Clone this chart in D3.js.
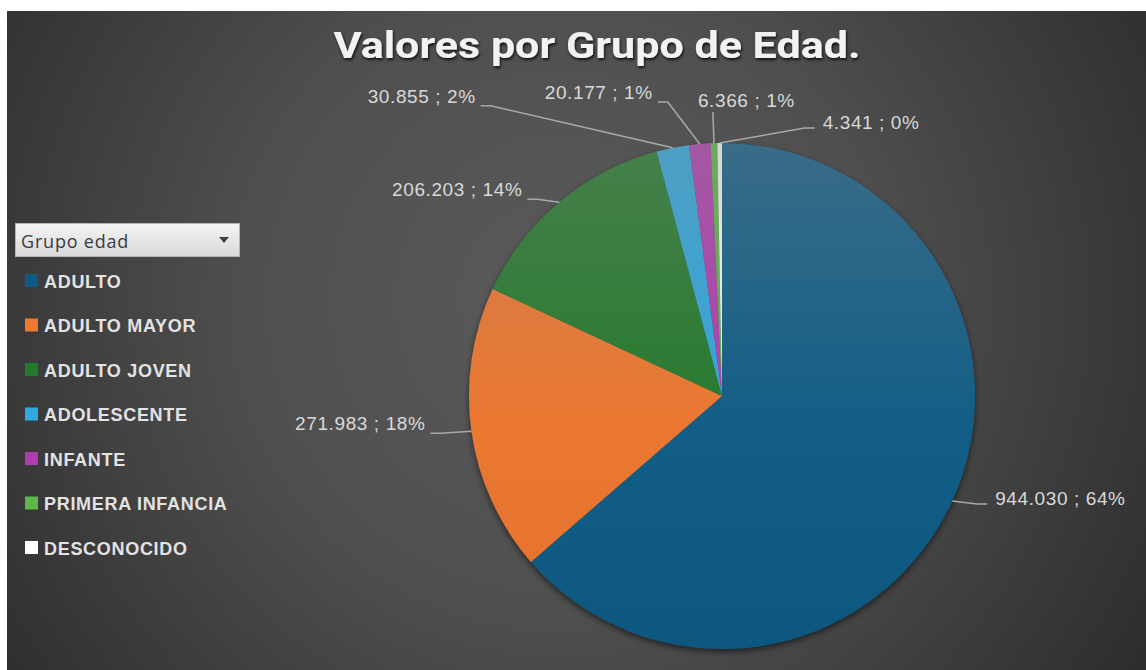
<!DOCTYPE html>
<html>
<head>
<meta charset="utf-8">
<script src="https://cdn.jsdelivr.net/npm/d3@7"></script>
<style>
  html, body { margin: 0; padding: 0; background: #fff; overflow: hidden; }
</style>
</head>
<body>
<script>
const categories = ["ADULTO", "ADULTO MAYOR", "ADULTO JOVEN", "ADOLESCENTE", "INFANTE", "PRIMERA INFANCIA", "DESCONOCIDO"];
const values = [944030, 271983, 206203, 30855, 20177, 6366, 4341];
const percentLabels = ["64%", "18%", "14%", "2%", "1%", "1%", "0%"];
const colors = ["#0c5b86", "#f0772f", "#237a2a", "#2ea9e1", "#b13cb0", "#5cb947", "#ffffff"];

// manual label nudges (leader end relative to slice edge), like Excel's dragged labels
const labelOffsets = [[35, 3], [-41, 2], [-32, -3], [-192, -42], [-42, -42], [-1, -31], [95, -15]];
const labelSides = ["right", "left", "left", "left", "left", "top", "right"];

const width = 1146, height = 670;
const cx = 722, cy = 396, radius = 253;

const esLocale = d3.formatLocale({ decimal: ",", thousands: ".", grouping: [3], currency: ["", ""] });
const fmt = esLocale.format(",");

const svg = d3.select("body").append("svg")
  .attr("width", width)
  .attr("height", height)
  .style("display", "block");

const defs = svg.append("defs");

const bg = defs.append("radialGradient")
  .attr("id", "bg")
  .attr("gradientUnits", "userSpaceOnUse")
  .attr("cx", 560).attr("cy", 300).attr("r", 700);
bg.append("stop").attr("offset", 0).attr("stop-color", "#5a5a5a");
bg.append("stop").attr("offset", 0.45).attr("stop-color", "#4f4f4f");
bg.append("stop").attr("offset", 1).attr("stop-color", "#2c2c2c");

const sheen = defs.append("linearGradient")
  .attr("id", "sheen")
  .attr("x1", 0).attr("y1", 0).attr("x2", 0).attr("y2", 1);
sheen.append("stop").attr("offset", 0).attr("stop-color", "#8a8a8a").attr("stop-opacity", 0.35);
sheen.append("stop").attr("offset", 0.55).attr("stop-color", "#8a8a8a").attr("stop-opacity", 0.05);
sheen.append("stop").attr("offset", 1).attr("stop-color", "#000").attr("stop-opacity", 0.05);

const shadow = defs.append("filter").attr("id", "shadow")
  .attr("x", "-10%").attr("y", "-10%").attr("width", "120%").attr("height", "120%");
shadow.append("feDropShadow")
  .attr("dx", 0).attr("dy", 3).attr("stdDeviation", 3)
  .attr("flood-color", "#000").attr("flood-opacity", 0.55);

const titleShadow = defs.append("filter").attr("id", "tshadow");
titleShadow.append("feDropShadow")
  .attr("dx", 1).attr("dy", 2).attr("stdDeviation", 1.5)
  .attr("flood-color", "#000").attr("flood-opacity", 0.8);

const boxGrad = defs.append("linearGradient")
  .attr("id", "box").attr("x1", 0).attr("y1", 0).attr("x2", 0).attr("y2", 1);
boxGrad.append("stop").attr("offset", 0).attr("stop-color", "#f4f4f4");
boxGrad.append("stop").attr("offset", 1).attr("stop-color", "#d9d9d9");

// chart area (white margin at top and left like the screenshot)
svg.append("rect")
  .attr("x", 7).attr("y", 11)
  .attr("width", width - 7).attr("height", height - 11)
  .attr("fill", "url(#bg)");

// title
svg.append("text")
  .attr("x", 597).attr("y", 58)
  .attr("text-anchor", "middle")
  .attr("font-family", "Roboto, 'Liberation Sans', sans-serif")
  .attr("font-weight", "bold")
  .attr("font-size", 37)
  .attr("textLength", 527)
  .attr("lengthAdjust", "spacingAndGlyphs")
  .attr("fill", "#f2f2f2")
  .attr("filter", "url(#tshadow)")
  .text("Valores por Grupo de Edad.");

// pie
const pie = d3.pie().sort(null).value(d => d);
const arcs = pie(values);
const arc = d3.arc().innerRadius(0).outerRadius(radius);
const edgeArc = d3.arc().innerRadius(radius).outerRadius(radius);

const g = svg.append("g").attr("transform", `translate(${cx},${cy})`);

g.append("g")
  .attr("filter", "url(#shadow)")
  .selectAll("path")
  .data(arcs)
  .join("path")
    .attr("d", arc)
    .attr("fill", (d, i) => colors[i]);

g.append("circle")
  .attr("r", radius)
  .attr("fill", "url(#sheen)")
  .attr("pointer-events", "none");

// leader lines + labels
const labels = g.append("g");
arcs.forEach((d, i) => {
  const [ex, ey] = edgeArc.centroid(d);
  const [ox, oy] = labelOffsets[i];
  const endX = ex + ox, endY = ey + oy;
  const side = labelSides[i];
  let pts;
  if (side === "top") {
    pts = [[ex, ey], [endX, endY]];
  } else {
    const dir = side === "left" ? 1 : -1;
    pts = [[ex, ey], [endX + dir * 10, endY], [endX, endY]];
  }
  labels.append("path")
    .attr("d", d3.line()(pts))
    .attr("fill", "none")
    .attr("stroke", "#a9a9a9")
    .attr("stroke-width", 1.5);

  const t = labels.append("text")
    .attr("font-family", "'Liberation Sans', Arial, sans-serif")
    .attr("font-size", 19)
    .attr("letter-spacing", 0.6)
    .attr("fill", "#d9d9d9")
    .text(`${fmt(values[i])} ; ${percentLabels[i]}`);
  if (side === "left") {
    t.attr("x", endX - 5).attr("y", endY - 3).attr("text-anchor", "end");
  } else if (side === "right") {
    t.attr("x", endX + 8).attr("y", endY + 1).attr("text-anchor", "start");
  } else {
    t.attr("x", endX - 15).attr("y", endY - 5).attr("text-anchor", "start");
  }
});

// legend
const legend = svg.append("g");
legend.append("rect")
  .attr("x", 15.5).attr("y", 223.5)
  .attr("width", 224).attr("height", 33)
  .attr("fill", "url(#box)")
  .attr("stroke", "#b5b5b5");
legend.append("text")
  .attr("x", 21).attr("y", 248)
  .attr("font-family", "'Open Sans', 'Liberation Sans', sans-serif")
  .attr("font-size", 18)
  .attr("letter-spacing", 0.8)
  .attr("fill", "#3a3a3a")
  .text("Grupo edad");
legend.append("path")
  .attr("d", "M219,237 L229,237 L224,243 Z")
  .attr("fill", "#404040");

const yLegend = d3.scalePoint()
  .domain(categories)
  .range([281, 548]);

const item = legend.selectAll("g.item")
  .data(categories)
  .join("g")
    .attr("class", "item")
    .attr("transform", d => `translate(0,${yLegend(d)})`);

item.append("rect")
  .attr("x", 25).attr("y", -7)
  .attr("width", 13).attr("height", 13)
  .attr("fill", (d, i) => colors[i]);

item.append("text")
  .attr("x", 44).attr("y", 6.5)
  .attr("font-family", "'Liberation Sans', Arial, sans-serif")
  .attr("font-weight", "bold")
  .attr("font-size", 18)
  .attr("letter-spacing", 0.7)
  .attr("fill", "#e3e3e3")
  .text(d => d);
</script>
</body>
</html>
